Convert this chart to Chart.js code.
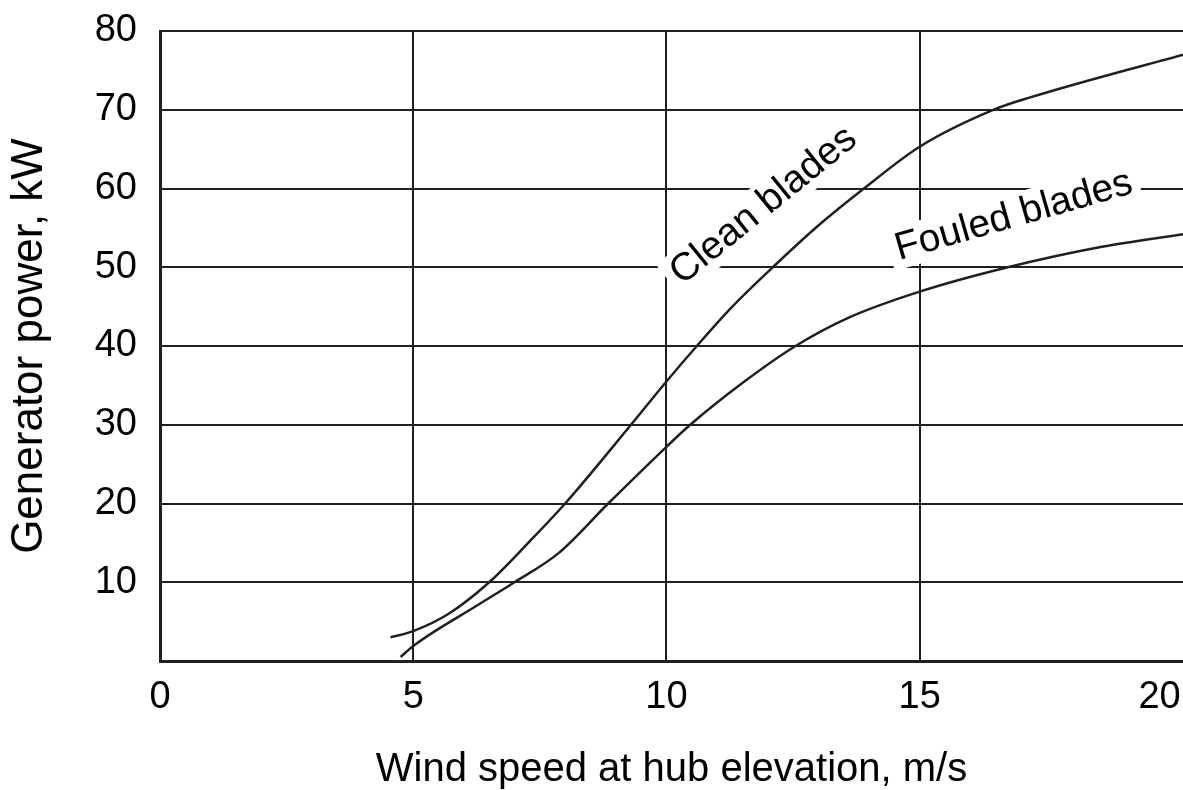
<!DOCTYPE html>
<html>
<head>
<meta charset="utf-8">
<script src="https://cdn.jsdelivr.net/npm/chart.js@4/dist/chart.umd.min.js"></script>
<style>
  html, body { margin: 0; padding: 0; background: #fff; }
  #wrap { width: 1183px; height: 790px; }
</style>
</head>
<body>
<div id="wrap"><canvas id="powerChart"></canvas></div>
<script>
// wind speed (m/s) and generator power (kW)
var cleanSpeed = [4.55, 5.0, 5.7, 6.5, 7.3, 8.0, 9.3, 10.0, 10.6, 11.3, 12.1, 13.0, 13.9, 15.0, 16.5, 17.2, 20.2];
var cleanPower = [3.0, 3.8, 6.0, 10.0, 15.2, 20.0, 30.0, 35.5, 40.0, 45.0, 50.0, 55.3, 60.0, 65.3, 70.1, 71.6, 77.0];
var fouledSpeed = [4.75, 5.0, 6.3, 7.0, 7.87, 8.85, 10.0, 10.47, 11.5, 12.55, 13.6, 15.0, 16.74, 18.6, 20.2];
var fouledPower = [0.5, 1.9, 7.2, 10.0, 13.7, 20.0, 27.2, 30.0, 35.3, 40.0, 43.6, 46.9, 50.0, 52.6, 54.2];

// tick labels
var xTicks = [0, 5, 10, 15, 20];
var yTicks = [0, 10, 20, 30, 40, 50, 60, 70, 80];

var INK = '#231f20';
var FONT = '"Liberation Sans", Arial, Helvetica, sans-serif';

function toPoints(xs, ys) {
  return xs.map(function (v, i) { return { x: v, y: ys[i] }; });
}

// text written along the curves, on a white patch
var curveLabels = [
  { text: 'Clean blades', x: 11.92, y: 57.8, angle: -39 },
  { text: 'Fouled blades', x: 16.86, y: 56.5, angle: -16 }
];

var labelPlugin = {
  id: 'curveLabels',
  beforeDatasetsDraw: function (chart) {
    var ctx = chart.ctx;
    var xs = chart.scales.x, ys = chart.scales.y;
    ctx.save();
    ctx.font = '39px ' + FONT;
    curveLabels.forEach(function (l) {
      var px = xs.getPixelForValue(l.x);
      var py = ys.getPixelForValue(l.y);
      var w = ctx.measureText(l.text).width;
      ctx.save();
      ctx.translate(px, py);
      ctx.rotate(l.angle * Math.PI / 180);
      ctx.fillStyle = '#fff';
      ctx.fillRect(-w / 2 - 7, -22, w + 14, 42);
      ctx.fillStyle = '#000';
      ctx.textAlign = 'center';
      ctx.textBaseline = 'middle';
      ctx.fillText(l.text, 0, 0);
      ctx.restore();
    });
    ctx.restore();
  }
};

var ctx = document.getElementById('powerChart');
var powerChart = new Chart(ctx, {
  type: 'scatter',
  data: {
    datasets: [{
      label: 'Clean blades',
      data: toPoints(cleanSpeed, cleanPower),
      showLine: true,
      borderColor: INK,
      borderWidth: 2.5,
      pointRadius: 0,
      cubicInterpolationMode: 'monotone'
    }, {
      label: 'Fouled blades',
      data: toPoints(fouledSpeed, fouledPower),
      showLine: true,
      borderColor: INK,
      borderWidth: 2.5,
      pointRadius: 0,
      cubicInterpolationMode: 'monotone'
    }]
  },
  options: {
    responsive: true,
    maintainAspectRatio: false,
    animation: false,
    layout: { padding: { top: 31, right: 0, left: 0, bottom: 0 } },
    plugins: {
      legend: { display: false },
      tooltip: { enabled: false }
    },
    scales: {
      x: {
        type: 'linear',
        min: 0,
        max: 20.2,
        afterBuildTicks: function (scale) {
          scale.ticks = xTicks.map(function (v) { return { value: v }; });
        },
        afterFit: function (scale) {
          scale.height = 129;
          scale.paddingLeft = 0;
          scale.paddingRight = 0;
        },
        grid: {
          color: function (c) {
            // no line drawn at the last tick
            return c.tick && c.tick.value === xTicks[xTicks.length - 1] ? 'rgba(0,0,0,0)' : INK;
          },
          lineWidth: 2,
          drawTicks: false
        },
        border: { color: INK, width: 3 },
        ticks: {
          color: '#000',
          padding: 14,
          maxRotation: 0,
          font: { family: FONT, size: 38 },
          // last label sits at the right edge, pull it in a little
          callback: function (v) {
            return v === xTicks[xTicks.length - 1] ? v + '\u2002\u2009' : v;
          }
        },
        title: {
          display: true,
          text: 'Wind speed at hub elevation, m/s',
          color: '#000',
          padding: { top: 0, bottom: 0 },
          font: { family: FONT, size: 40, lineHeight: 1 }
        }
      },
      y: {
        min: 0,
        max: 80,
        afterBuildTicks: function (scale) {
          scale.ticks = yTicks.map(function (v) { return { value: v }; });
        },
        afterFit: function (scale) {
          scale.width = 160;
          scale.paddingTop = 0;
          scale.paddingBottom = 0;
        },
        grid: { color: INK, lineWidth: 2, drawTicks: false },
        border: { color: INK, width: 3 },
        ticks: {
          color: '#000',
          padding: 23,
          font: { family: FONT, size: 38 },
          callback: function (v) { return v === 0 ? '' : v; }
        },
        title: {
          display: true,
          text: 'Generator power, kW',
          color: '#000',
          padding: { top: 8, bottom: 0 },
          font: { family: FONT, size: 44, lineHeight: 1 }
        }
      }
    }
  },
  plugins: [labelPlugin]
});
</script>
</body>
</html>
